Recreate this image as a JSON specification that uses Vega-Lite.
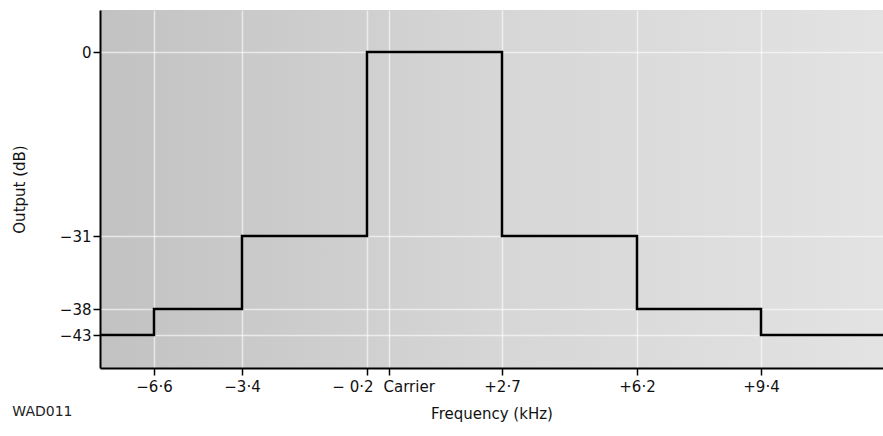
{
  "$schema": "https://vega.github.io/schema/vega-lite/v6.json",
  "width": 783,
  "height": 358,
  "autosize": {"type": "none"},
  "padding": {"left": 100, "top": 10, "right": 0, "bottom": 68},
  "background": "white",
  "title": {
    "text": "WAD011",
    "orient": "bottom",
    "anchor": "start",
    "frame": "bounds",
    "offset": -16,
    "font": "DejaVu Sans",
    "fontSize": 14,
    "fontWeight": "normal",
    "color": "#222"
  },
  "config": {
    "view": {
      "stroke": null,
      "fill": {
        "gradient": "linear",
        "x1": 0, "y1": 0, "x2": 1, "y2": 0,
        "stops": [
          {"offset": 0, "color": "#c2c2c2"},
          {"offset": 0.5, "color": "#d6d6d6"},
          {"offset": 1, "color": "#e3e3e3"}
        ]
      }
    },
    "axis": {
      "labelFont": "DejaVu Sans",
      "titleFont": "DejaVu Sans",
      "labelFontSize": 15,
      "titleFontSize": 15,
      "titleFontWeight": "normal",
      "labelColor": "#111",
      "titleColor": "#111",
      "domainColor": "#000",
      "domainWidth": 2,
      "tickColor": "#000",
      "tickWidth": 1.5,
      "tickSize": 7,
      "gridColor": "#ffffff",
      "gridOpacity": 0.6,
      "gridWidth": 1.5
    }
  },
  "data": {
    "values": [
      {"freq": -8.6, "db": -43},
      {"freq": -6.6, "db": -38},
      {"freq": -3.4, "db": -31},
      {"freq": -0.2, "db": 0},
      {"freq": 2.7, "db": -31},
      {"freq": 6.2, "db": -38},
      {"freq": 9.4, "db": -43},
      {"freq": 12.6, "db": -43}
    ]
  },
  "mark": {"type": "line", "interpolate": "step-after", "color": "#000", "strokeWidth": 2.5, "clip": false},
  "encoding": {
    "x": {
      "field": "freq",
      "type": "quantitative",
      "scale": {
        "domain": [-8.6, -6.6, -3.4, -0.2, 0, 2.7, 6.2, 9.4, 12.6],
        "range": [0, 54, 142, 267, 289, 402, 537, 661, 783],
        "nice": false,
        "zero": false
      },
      "axis": {
        "title": "Frequency (kHz)",
        "titlePadding": 12,
        "values": [-6.6, -3.4, -0.2, 0, 2.7, 6.2, 9.4],
        "labelOverlap": false,
        "labelPadding": 4,
        "labelExpr": "datum.value == 0 ? 'Carrier' : datum.value == -0.2 ? '− 0·2' : (datum.value < 0 ? '−' : '+') + replace(format(abs(datum.value), '.1f'), '.', '·')",
        "labelAlign": {
          "condition": [
            {"test": "datum.value === -0.2", "value": "right"},
            {"test": "datum.value === 0", "value": "left"}
          ],
          "value": "center"
        },
        "labelOffset": {
          "condition": [
            {"test": "datum.value === -0.2", "value": 6},
            {"test": "datum.value === 0", "value": -6}
          ],
          "value": 0
        }
      }
    },
    "y": {
      "field": "db",
      "type": "quantitative",
      "scale": {
        "domain": [-49, -43, -38, -31, 0, 7],
        "range": [358, 325, 299, 226, 42, 0],
        "nice": false,
        "zero": false
      },
      "axis": {
        "title": "Output (dB)",
        "titlePadding": 32,
        "values": [0, -31, -38, -43],
        "labelOverlap": false,
        "labelPadding": 2,
        "labelExpr": "datum.value == 0 ? '0' : '−' + abs(datum.value)"
      }
    }
  }
}
